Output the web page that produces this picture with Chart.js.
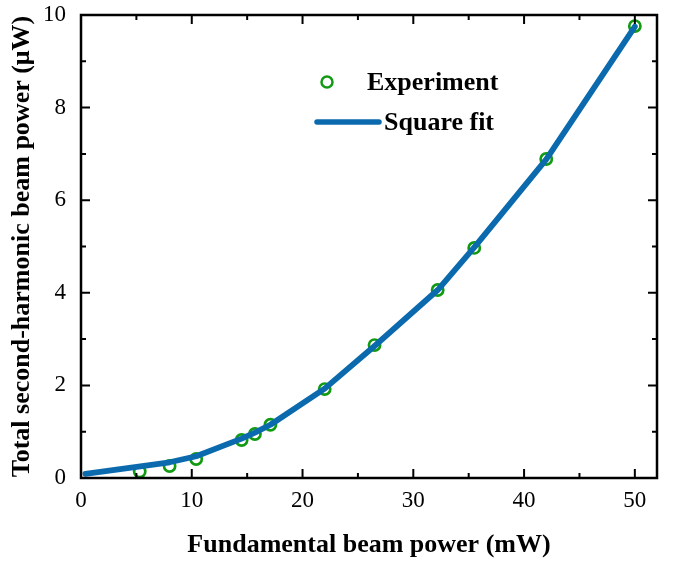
<!DOCTYPE html>
<html>
<head>
<meta charset="utf-8">
<script src="https://cdn.jsdelivr.net/npm/chart.js@4"></script>
<style>
  html, body { margin: 0; padding: 0; background: #fff; }
  #wrap { width: 674px; height: 562px; }
</style>
</head>
<body>
<div id="wrap"><canvas id="myChart" width="674" height="562"></canvas></div>
<script>
// measured points (fundamental power mW, SH power uW)
const expX = [5.3, 8.0, 10.4, 14.5, 15.7, 17.1, 22.0, 26.5, 32.2, 35.5, 42.0, 50.0];
const expY = [0.14, 0.26, 0.41, 0.82, 0.95, 1.15, 1.92, 2.87, 4.06, 4.97, 6.89, 9.76];

// square fit curve as drawn
const fitX = [0.4, 8.0, 10.4, 14.5, 15.7, 17.1, 22.0, 26.5, 32.2, 35.5, 42.0, 50.0];
const fitY = [0.09, 0.34, 0.47, 0.85, 0.98, 1.15, 1.93, 2.85, 4.06, 4.98, 6.88, 9.75];

// axis ticks
const xTicks = [0, 10, 20, 30, 40, 50];
const yTicks = [0, 2, 4, 6, 8, 10];

const serif = "'Liberation Serif', 'Times New Roman', serif";
const green = '#129a12';
const blue = '#0b6aae';

//Frame with inward ticks on all four sides
const framePlugin = {
  id: 'frame',
  afterDraw(chart) {
    const ctx = chart.ctx;
    const a = chart.chartArea;
    const xs = chart.scales.x;
    const ys = chart.scales.y;
    ctx.save();
    ctx.strokeStyle = '#000';
    ctx.lineWidth = 2.5;
    ctx.strokeRect(a.left, a.top, a.right - a.left, a.bottom - a.top);
    ctx.lineWidth = 2;
    ctx.beginPath();
    xTicks.forEach((v, i) => {
      const px = xs.getPixelForValue(v);
      ctx.moveTo(px, a.bottom); ctx.lineTo(px, a.bottom - 9);
      ctx.moveTo(px, a.top); ctx.lineTo(px, a.top + 9);
      if (i < xTicks.length - 1) {
        const mx = xs.getPixelForValue((v + xTicks[i + 1]) / 2);
        ctx.moveTo(mx, a.bottom); ctx.lineTo(mx, a.bottom - 5);
        ctx.moveTo(mx, a.top); ctx.lineTo(mx, a.top + 5);
      }
    });
    yTicks.forEach((v, i) => {
      const py = ys.getPixelForValue(v);
      ctx.moveTo(a.left, py); ctx.lineTo(a.left + 9, py);
      ctx.moveTo(a.right, py); ctx.lineTo(a.right - 9, py);
      if (i < yTicks.length - 1) {
        const my = ys.getPixelForValue((v + yTicks[i + 1]) / 2);
        ctx.moveTo(a.left, my); ctx.lineTo(a.left + 5, my);
        ctx.moveTo(a.right, my); ctx.lineTo(a.right - 5, my);
      }
    });
    ctx.stroke();

    //Legend inside the plot
    const lx = a.left + 246;
    ctx.font = 'bold 26px ' + serif;
    ctx.textBaseline = 'middle';
    ctx.fillStyle = '#000';
    ctx.strokeStyle = green;
    ctx.lineWidth = 2.5;
    ctx.beginPath();
    ctx.arc(lx, a.top + 67, 5.5, 0, Math.PI * 2);
    ctx.stroke();
    ctx.fillText('Experiment', lx + 40, a.top + 68);
    ctx.strokeStyle = blue;
    ctx.lineWidth = 5.5;
    ctx.lineCap = 'round';
    ctx.beginPath();
    ctx.moveTo(lx - 10, a.top + 107);
    ctx.lineTo(lx + 52, a.top + 107);
    ctx.stroke();
    ctx.fillText('Square fit', lx + 57, a.top + 108);
    ctx.restore();
  }
};

const ctx = document.getElementById('myChart');
const myChart = new Chart(ctx, {
  type: 'scatter',
  data: {
    datasets: [
      {
        label: 'Square fit',
        type: 'line',
        data: fitX.map((x, i) => ({x: x, y: fitY[i]})),
        borderColor: blue,
        borderWidth: 5.8,
        borderCapStyle: 'round',
        borderJoinStyle: 'round',
        pointRadius: 0,
        fill: false,
        tension: 0,
        order: 0
      },
      {
        label: 'Experiment',
        data: expX.map((x, i) => ({x: x, y: expY[i]})),
        borderColor: green,
        backgroundColor: 'rgba(0,0,0,0)',
        borderWidth: 2.7,
        pointRadius: 5.6,
        order: 1
      }
    ]
  },
  options: {
    responsive: false,
    animation: false,
    layout: { padding: { top: 15, right: 17, left: 0, bottom: 0 } },
    plugins: { legend: { display: false }, tooltip: { enabled: false } },
    scales: {
      x: {
        type: 'linear',
        min: 0,
        max: 52,
        afterBuildTicks: (s) => { s.ticks = xTicks.map(v => ({value: v})); },
        afterFit: (s) => { s.height = 84; s.paddingLeft = 0; s.paddingRight = 0; },
        grid: { display: false },
        border: { display: false },
        ticks: { color: '#000', padding: 1, font: { family: serif, size: 23 } },
        title: {
          display: true,
          text: 'Fundamental beam power (mW)',
          color: '#000',
          font: { family: serif, size: 26, weight: 'bold' },
          padding: { top: 0, bottom: 1 }
        }
      },
      y: {
        min: 0,
        max: 10,
        afterBuildTicks: (s) => { s.ticks = yTicks.map(v => ({value: v})); },
        afterFit: (s) => { s.width = 81; s.paddingTop = 0; s.paddingBottom = 0; },
        grid: { display: false },
        border: { display: false },
        ticks: { color: '#000', padding: 7, font: { family: serif, size: 23 } },
        title: {
          display: true,
          text: 'Total second-harmonic beam power (\u03BCW)',
          color: '#000',
          font: { family: serif, size: 26, weight: 'bold' },
          padding: { top: 7, bottom: 0 }
        }
      }
    }
  },
  plugins: [framePlugin]
});
</script>
</body>
</html>
